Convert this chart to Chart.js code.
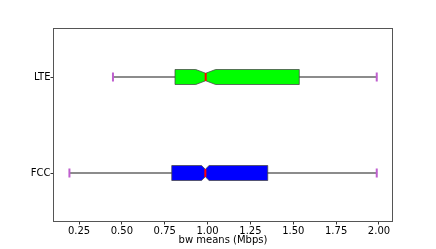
<!DOCTYPE html>
<html>
<head>
<meta charset="utf-8">
<script src="https://cdn.jsdelivr.net/npm/chart.js@4/dist/chart.umd.min.js"></script>
<style>
  html, body { margin: 0; padding: 0; background: #ffffff; }
  #wrap { width: 436px; height: 249px; }
</style>
</head>
<body>
<div id="wrap"><canvas id="c" width="436" height="249"></canvas></div>
<script>
// ---- data ----
const categories   = ['LTE', 'FCC'];
const whiskerLow   = [0.448, 0.194];
const q1           = [0.810, 0.791];
const medians      = [0.989, 0.987];
const q3           = [1.535, 1.351];
const whiskerHigh  = [1.987, 1.987];
const notchHalf    = [0.058, 0.022];
const boxColors    = ['#00ff00', '#0000ff'];
const xTicks       = [0.25, 0.50, 0.75, 1.00, 1.25, 1.50, 1.75, 2.00];
const xTickLabels  = ['0.25', '0.50', '0.75', '1.00', '1.25', '1.50', '1.75', '2.00'];
const xLimits      = [0.104, 2.076];
const xTitle       = 'bw means (Mbps)';

Chart.defaults.font.family = "'DejaVu Sans', sans-serif";
Chart.defaults.font.size = 10;
Chart.defaults.color = '#000000';

const notchPlugin = {
  id: 'notchPlugin',
  afterDatasetDraw(chart, args) {
    if (args.index !== 1) return;
    const ctx = chart.ctx;
    const xs = chart.scales.x;
    ctx.save();
    args.meta.data.forEach((el, i) => {
      const xl = Math.min(el.x, el.base), xr = Math.max(el.x, el.base);
      const y = el.y, h = el.height / 2, q = el.height / 4;
      const m = xs.getPixelForValue(medians[i]);
      const nl = xs.getPixelForValue(medians[i] - notchHalf[i]);
      const nr = xs.getPixelForValue(medians[i] + notchHalf[i]);
      ctx.beginPath();
      ctx.moveTo(xl, y - h);
      ctx.lineTo(nl, y - h);
      ctx.lineTo(m, y - q);
      ctx.lineTo(nr, y - h);
      ctx.lineTo(xr, y - h);
      ctx.lineTo(xr, y + h);
      ctx.lineTo(nr, y + h);
      ctx.lineTo(m, y + q);
      ctx.lineTo(nl, y + h);
      ctx.lineTo(xl, y + h);
      ctx.closePath();
      ctx.fillStyle = boxColors[i];
      ctx.fill();
      ctx.lineWidth = 1;
      ctx.strokeStyle = 'rgba(70,70,70,0.75)';
      ctx.stroke();
    });
    ctx.restore();
  }
};

const framePlugin = {
  id: 'framePlugin',
  afterDraw(chart) {
    const a = chart.chartArea, ctx = chart.ctx;
    ctx.save();
    ctx.strokeStyle = '#555555';
    ctx.lineWidth = 1;
    ctx.strokeRect(a.left - 0.5, a.top - 0.5, a.right - a.left + 1, a.bottom - a.top + 1);
    ctx.restore();
  }
};

const caps = [];
categories.forEach((c, i) => {
  caps.push({ x: whiskerLow[i], y: c });
  caps.push({ x: whiskerHigh[i], y: c });
});
const medPts = categories.map((c, i) => ({ x: medians[i], y: c }));

new Chart(document.getElementById('c'), {
  type: 'bar',
  data: {
    labels: categories,
    datasets: [
      {
        label: 'whiskers',
        data: categories.map((c, i) => [whiskerLow[i], whiskerHigh[i]]),
        backgroundColor: '#666666',
        barThickness: 1,
        grouped: false,
        order: 4
      },
      {
        label: 'boxes',
        data: categories.map((c, i) => [q1[i], q3[i]]),
        backgroundColor: 'rgba(0,0,0,0)',
        borderWidth: 0,
        barThickness: 15,
        grouped: false,
        order: 3
      },
      {
        type: 'scatter',
        label: 'caps',
        data: caps,
        pointStyle: 'line',
        pointRotation: 90,
        pointRadius: 4.5,
        pointBorderWidth: 2,
        pointBorderColor: '#bf5fcf',
        pointBackgroundColor: '#bf5fcf',
        borderColor: '#bf5fcf',
        order: 2
      },
      {
        type: 'scatter',
        label: 'medians',
        data: medPts,
        pointStyle: 'line',
        pointRotation: 90,
        pointRadius: 4,
        pointBorderWidth: 2,
        pointBorderColor: '#ff0000',
        pointBackgroundColor: '#ff0000',
        borderColor: '#ff0000',
        order: 1
      }
    ]
  },
  options: {
    indexAxis: 'y',
    responsive: false,
    animation: false,
    events: [],
    layout: { padding: { left: 0, top: 29, right: 44, bottom: 0 } },
    plugins: { legend: { display: false }, tooltip: { enabled: false } },
    scales: {
      x: {
        type: 'linear',
        position: 'bottom',
        min: xLimits[0],
        max: xLimits[1],
        afterBuildTicks: (s) => { s.ticks = xTicks.map(v => ({ value: v })); },
        afterFit: (s) => { s.height = 28; },
        grid: { drawOnChartArea: false, drawTicks: true, tickLength: 3.5, color: '#333333' },
        border: { display: false },
        ticks: {
          padding: 1,
          autoSkip: false,
          maxRotation: 0,
          callback: (v, i) => xTickLabels[i]
        },
        title: { display: true, text: xTitle, padding: { top: 0, bottom: 3 } }
      },
      y: {
        type: 'category',
        offset: true,
        afterFit: (s) => { s.width = 54; },
        grid: { drawOnChartArea: false, drawTicks: true, tickLength: 3.5, color: '#333333', offset: false },
        border: { display: false },
        ticks: { padding: 0 }
      }
    }
  },
  plugins: [notchPlugin, framePlugin]
});
</script>
</body>
</html>
